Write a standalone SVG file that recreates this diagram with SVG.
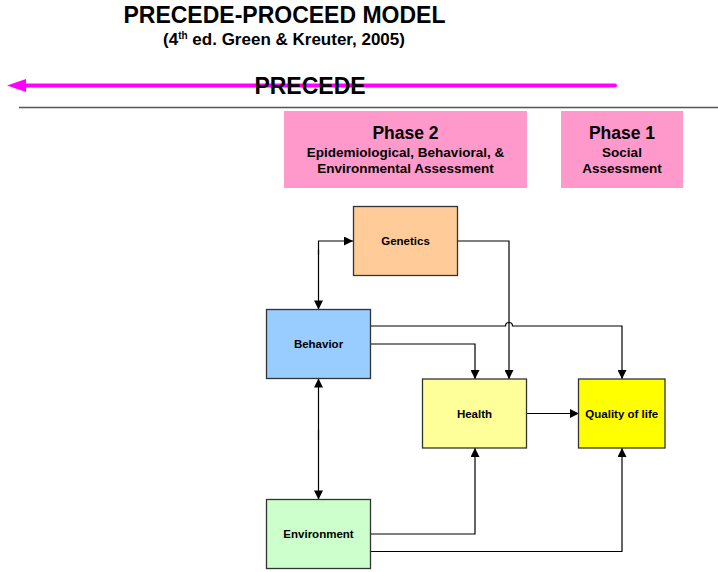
<svg xmlns="http://www.w3.org/2000/svg" width="718" height="572" viewBox="0 0 718 572">
<defs>
<style>
text{font-family:"Liberation Sans",Arial,sans-serif;font-weight:bold;fill:#000;text-anchor:middle}
.node{stroke:#333;stroke-width:1.3}
.lbl{font-size:11.5px}
.conn path{fill:none;stroke:#000;stroke-width:1.2}
.phase{fill:#FF99CC}
.ph{font-size:17.5px}
.ps{font-size:13.5px}
</style>
<marker id="arr" viewBox="0 0 10 10" refX="10" refY="5" markerWidth="10" markerHeight="9" markerUnits="userSpaceOnUse" orient="auto-start-reverse">
<path d="M0,0 L10,5 L0,10 z" fill="#000"/>
</marker>
</defs>
<rect width="718" height="572" fill="#fff"/>
<g id="title">
<text x="284.5" y="23" style="font-size:23px">PRECEDE-PROCEED MODEL</text>
<text x="284" y="45" style="font-size:17px">(4<tspan dy="-6" style="font-size:10px">th</tspan><tspan dy="6"> ed. Green &amp; Kreuter, 2005)</tspan></text>
</g>
<g id="precede-arrow">
<line x1="615" y1="85.5" x2="24" y2="85.5" stroke="#FF00FF" stroke-width="4" stroke-linecap="round"/>
<polygon points="7,85.5 26,79 26,92" fill="#FF00FF"/>
<text x="310" y="94" style="font-size:23px">PRECEDE</text>
</g>
<line id="divider" x1="19" y1="107.5" x2="718" y2="107.5" stroke="#555" stroke-width="1.6"/>
<g id="phase2">
<rect class="phase" x="284" y="111" width="243" height="77"/>
<text class="ph" x="405.5" y="139">Phase 2</text>
<text class="ps" x="405.5" y="157">Epidemiological, Behavioral, &amp;</text>
<text class="ps" x="405.5" y="173">Environmental Assessment</text>
</g>
<g id="phase1">
<rect class="phase" x="561" y="111" width="122" height="77"/>
<text class="ph" x="622" y="139">Phase 1</text>
<text class="ps" x="622" y="157">Social</text>
<text class="ps" x="622" y="173">Assessment</text>
</g>
<g class="conn" id="connectors">
<path d="M318.5,255 V241 H353" marker-end="url(#arr)"/>
<path d="M318.5,250 V309.5" marker-end="url(#arr)"/>
<path d="M458,241 H509 V379" marker-end="url(#arr)"/>
<path d="M371,326 H505.5 A3.5,3.5 0 0 1 512.5,326 H622 V379" marker-end="url(#arr)"/>
<path d="M371,344 H475 V379" marker-end="url(#arr)"/>
<path d="M318.5,440 V378.5" marker-end="url(#arr)"/>
<path d="M318.5,430 V499.5" marker-end="url(#arr)"/>
<path d="M527,413.5 H579" marker-end="url(#arr)"/>
<path d="M371,534 H475 V448" marker-end="url(#arr)"/>
<path d="M371,551.5 H622 V448" marker-end="url(#arr)"/>
</g>
<g id="genetics">
<rect class="node" x="353.5" y="206.5" width="104" height="69" fill="#FFCC99"/>
<text class="lbl" x="405.5" y="244.5">Genetics</text>
</g>
<g id="behavior">
<rect class="node" x="266.5" y="309.5" width="104" height="69" fill="#99CCFF"/>
<text class="lbl" x="318.5" y="348">Behavior</text>
</g>
<g id="health">
<rect class="node" x="422.5" y="379" width="104" height="69" fill="#FFFF99"/>
<text class="lbl" x="474.5" y="417.5">Health</text>
</g>
<g id="quality">
<rect class="node" x="578.5" y="379" width="86.5" height="69" fill="#FFFF00"/>
<text class="lbl" x="621.75" y="417.5">Quality of life</text>
</g>
<g id="environment">
<rect class="node" x="266.5" y="499.5" width="104" height="69" fill="#CCFFCC"/>
<text class="lbl" x="318.5" y="538">Environment</text>
</g>
</svg>
